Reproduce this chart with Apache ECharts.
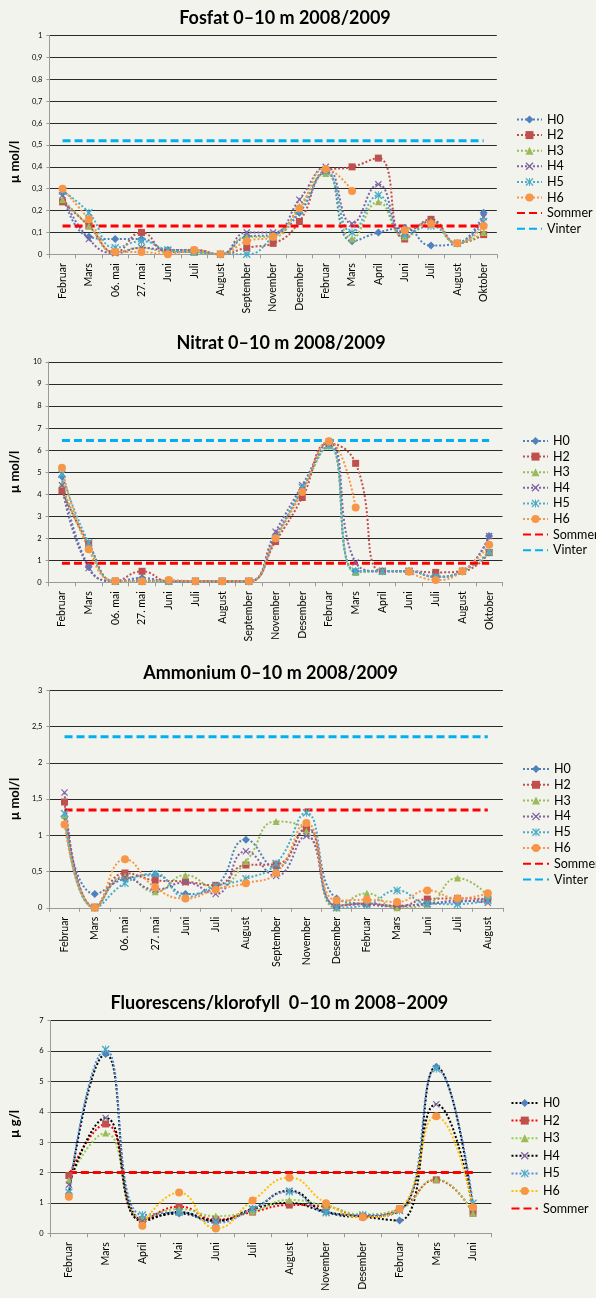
<!DOCTYPE html>
<html><head><meta charset="utf-8">
<script src="https://cdn.jsdelivr.net/npm/echarts@6/dist/echarts.min.js"></script>
<style>
html,body{margin:0;padding:0;background:#f3f3ee;}
.c{position:absolute;left:0;width:596px;}
</style>
</head><body>
<div id="c1" class="c" style="top:0;height:330px"></div>
<div id="c2" class="c" style="top:330px;height:320px"></div>
<div id="c3" class="c" style="top:650px;height:320px"></div>
<div id="c4" class="c" style="top:970px;height:328px"></div>
<script>
// ---------- DATA ----------
const seriesNames = ['H0','H2','H3','H4','H5','H6'];

const fosfatCats = ['Februar','Mars','06. mai','27. mai','Juni','Juli','August','September','November','Desember','Februar','Mars','April','Juni','Juli','August','Oktober'];
const fosfatH0 = [0.28,0.08,0.07,0.07,0.02,0.02,0.00,0.08,0.09,0.19,0.38,0.06,0.10,0.12,0.04,0.05,0.19];
const fosfatH2 = [0.24,0.13,0.01,0.10,0.01,0.01,0.00,0.03,0.05,0.15,0.38,0.40,0.44,0.07,0.16,0.05,0.09];
const fosfatH3 = [0.25,0.13,0.01,0.03,0.01,0.01,0.00,0.08,0.08,0.22,0.37,0.07,0.24,0.08,0.15,0.05,0.10];
const fosfatH4 = [0.27,0.07,0.005,0.03,0.02,0.02,0.00,0.10,0.10,0.25,0.40,0.14,0.32,0.10,0.15,0.05,0.17];
const fosfatH5 = [0.29,0.19,0.03,0.06,0.02,0.01,0.00,0.00,0.08,0.20,0.38,0.10,0.27,0.09,0.13,0.05,0.15];
const fosfatH6 = [0.30,0.16,0.01,0.01,0.00,0.02,0.00,0.06,0.08,0.21,0.39,0.29,null,0.11,0.14,0.05,0.13];
const fosfatSommer = [0.13,0.13,0.13,0.13,0.13,0.13,0.13,0.13,0.13,0.13,0.13,0.13,0.13,0.13,0.13,0.13,0.13];
const fosfatVinter = [0.52,0.52,0.52,0.52,0.52,0.52,0.52,0.52,0.52,0.52,0.52,0.52,0.52,0.52,0.52,0.52,0.52];
const fosfatTicks = {max:1, interval:0.1};

const nitratCats = ['Februar','Mars','06. mai','27. mai','Juni','Juli','August','September','November','Desember','Februar','Mars','April','Juni','Juli','August','Oktober'];
const nitratH0 = [4.8,0.7,0.05,0.2,0.05,0.05,0.05,0.05,2.1,4.2,6.4,0.5,0.5,0.5,0.25,0.5,2.1];
const nitratH2 = [4.15,1.75,0.05,0.5,0.05,0.05,0.05,0.05,1.85,3.85,6.3,5.4,0.5,0.5,0.45,0.5,1.35];
const nitratH3 = [4.45,1.6,0.05,0.05,0.05,0.05,0.05,0.05,2.0,4.2,6.2,0.45,0.5,0.5,0.25,0.5,1.4];
const nitratH4 = [4.4,0.65,0.05,0.1,0.05,0.05,0.05,0.05,2.3,4.4,6.4,0.9,0.5,0.5,0.25,0.5,2.1];
const nitratH5 = [4.9,1.8,0.05,0.05,0.05,0.05,0.05,0.05,2.0,4.3,6.2,0.5,0.5,0.5,0.25,0.5,1.35];
const nitratH6 = [5.2,1.5,0.06,0.05,0.1,0.05,0.05,0.05,2.0,4.1,6.4,3.4,null,0.48,0.1,0.5,1.7];
const nitratSommer = [0.86,0.86,0.86,0.86,0.86,0.86,0.86,0.86,0.86,0.86,0.86,0.86,0.86,0.86,0.86,0.86,0.86];
const nitratVinter = [6.44,6.44,6.44,6.44,6.44,6.44,6.44,6.44,6.44,6.44,6.44,6.44,6.44,6.44,6.44,6.44,6.44];
const nitratTicks = {max:10, interval:1};

const ammoniumCats = ['Februar','Mars','06. mai','27. mai','Juni','Juli','August','September','November','Desember','Februar','Mars','Juni','Juli','August'];
const ammoniumH0 = [1.26,0.19,0.40,0.45,0.19,0.30,0.94,0.55,1.10,0.13,0.05,0.02,0.06,0.08,0.12];
const ammoniumH2 = [1.46,0.01,0.48,0.38,0.36,0.31,0.59,0.60,1.09,0.03,0.06,0.02,0.12,0.13,0.12];
const ammoniumH3 = [1.28,0.00,0.44,0.22,0.45,0.27,0.64,1.19,1.06,0.00,0.20,0.00,0.05,0.41,0.17];
const ammoniumH4 = [1.59,0.00,0.42,0.25,0.35,0.19,0.78,0.44,0.99,0.03,0.05,0.03,0.05,0.10,0.07];
const ammoniumH5 = [1.30,0.00,0.34,0.47,0.15,0.30,0.40,0.61,1.31,0.00,0.04,0.24,0.06,0.05,0.10];
const ammoniumH6 = [1.15,0.00,0.67,0.28,0.13,0.25,0.34,0.48,1.17,0.10,0.11,0.08,0.24,0.13,0.20];
const ammoniumSommer = [1.35,1.35,1.35,1.35,1.35,1.35,1.35,1.35,1.35,1.35,1.35,1.35,1.35,1.35,1.35];
const ammoniumVinter = [2.36,2.36,2.36,2.36,2.36,2.36,2.36,2.36,2.36,2.36,2.36,2.36,2.36,2.36,2.36];
const ammoniumTicks = {max:3, interval:0.5};

const fluorCats = ['Februar','Mars','April','Mai','Juni','Juli','August','November','Desember','Februar','Mars','Juni'];
const fluorH0 = [1.3,5.9,0.45,0.65,0.4,0.8,1.0,0.7,0.55,0.42,5.48,0.8];
const fluorH2 = [1.9,3.6,0.45,0.88,0.45,0.7,0.93,0.88,0.55,0.8,1.76,0.66];
const fluorH3 = [1.75,3.3,0.5,0.8,0.57,0.73,1.1,0.9,0.63,0.8,1.78,0.66];
const fluorH4 = [1.6,3.8,0.4,0.7,0.42,0.8,1.4,0.7,0.55,0.75,4.25,0.8];
const fluorH5 = [1.35,6.05,0.6,0.69,0.35,0.8,1.37,0.68,0.6,0.75,5.42,0.99];
const fluorH6 = [1.2,null,0.25,1.34,0.16,1.08,1.83,0.99,0.53,0.8,3.85,0.86];
const fluorSommer = [2,2,2,2,2,2,2,2,2,2,2,2];
const fluorTicks = {max:7, interval:1};

// ---------- STYLE ----------
const FONT = 'Lato, "Open Sans", sans-serif';
const SYM_X = 'path://M0,1.2L1.2,0L5,3.8L8.8,0L10,1.2L6.2,5L10,8.8L8.8,10L5,6.2L1.2,10L0,8.8L3.8,5Z';
const SYM_STAR = 'path://M0,1.2L1.2,0L5,3.8L8.8,0L10,1.2L6.2,5L10,8.8L8.8,10L5,6.2L1.2,10L0,8.8L3.8,5Z M4.4,0L5.6,0L5.6,10L4.4,10Z';
const symbols = {H0:['diamond',8], H2:['rect',7], H3:['triangle',7], H4:[SYM_X,7], H5:[SYM_STAR,8], H6:['circle',8]};
const excelColors = {H0:'#4F81BD', H2:'#C0504D', H3:'#9BBB59', H4:'#8064A2', H5:'#4BACC6', H6:'#F79646'};
const fluorLine = {H0:'#000000', H2:'#FF0000', H3:'#92D050', H4:'#000000', H5:'#558ED5', H6:'#FFC000'};

function dataSeries(name, data, lineColor, markColor){
  return {
    name, type:'line', data, smooth:0.5, connectNulls:false,
    symbol:symbols[name][0], symbolSize:symbols[name][1], showAllSymbol:true,
    lineStyle:{color:lineColor, width:2, type:[2,2]},
    itemStyle:{color:markColor},
    emphasis:{disabled:true}, animation:false
  };
}
function refSeries(name, data, color){
  return {
    name, type:'line', data, symbol:'none', smooth:false,
    lineStyle:{color, width:3, type:[8,4]}, itemStyle:{color},
    emphasis:{disabled:true}, animation:false, z:3
  };
}

function build(id, cfg){
  const chart = echarts.init(document.getElementById(id), null, {renderer:'canvas'});
  const legendData = cfg.series.map(s => (s.name==='Sommer'||s.name==='Vinter')
      ? {name:s.name, itemStyle:{opacity:0}} : {name:s.name});
  chart.setOption({
    backgroundColor:'#f3f3ee',
    animation:false,
    graphic:[
      {type:'text', x:cfg.title[0], y:cfg.title[1], style:{text:cfg.titleText, fontFamily:FONT, fontWeight:'bold', fontSize:18, fill:'#000', align:'center', verticalAlign:'middle'}},
      {type:'text', x:cfg.yname[0], y:cfg.yname[1], rotation:Math.PI/2, style:{text:cfg.ynameText, fontFamily:FONT, fontWeight:'bold', fontSize:13, fill:'#000', align:'center', verticalAlign:'middle'}}
    ],
    grid:{left:cfg.grid[0], top:cfg.grid[1], width:cfg.grid[2], height:cfg.grid[3], containLabel:false},
    legend:{
      orient:'vertical', left:cfg.legend[0], top:cfg.legend[1], itemWidth:cfg.legend[3], itemHeight:10, itemGap:cfg.legend[2],
      data:legendData, textStyle:{fontFamily:FONT, fontSize:12.5, color:'#000'}, selectedMode:false
    },
    xAxis:{
      type:'category', data:cfg.cats, boundaryGap:true,
      axisLine:{lineStyle:{color:'#9a9a9a', width:1}},
      axisTick:{show:true, length:4, lineStyle:{color:'#9a9a9a'}},
      axisLabel:{rotate:90, interval:0, fontFamily:FONT, fontSize:10.5, color:'#000', margin:9}
    },
    yAxis:{
      type:'value', min:0, max:cfg.ticks.max, interval:cfg.ticks.interval,
      axisLine:{show:true, lineStyle:{color:'#9a9a9a', width:1}},
      axisTick:{show:true, length:3, lineStyle:{color:'#9a9a9a'}},
      splitLine:{lineStyle:{color:'#2a2a2a', width:1.2}},
      axisLabel:{fontFamily:FONT, fontSize:7.5, color:'#000', margin:7,
        formatter:v=>String(parseFloat(v.toFixed(2))).replace('.',',')}
    },
    series:cfg.series
  });
}

function stdSeries(arrs, sommer, vinter){
  const out = seriesNames.map((n,i)=>dataSeries(n, arrs[i], excelColors[n], excelColors[n]));
  out.push(refSeries('Sommer', sommer, '#FF0000'));
  if (vinter) out.push(refSeries('Vinter', vinter, '#00B0F0'));
  return out;
}

build('c1', {
  titleText:'Fosfat 0\u201310 m 2008/2009', title:[285,18.5], ynameText:'\u00b5 mol/l', yname:[15,162],
  grid:[49.4,35.7,447.4,218.6], legend:[511,108,2.6,25], cats:fosfatCats, ticks:fosfatTicks,
  series:stdSeries([fosfatH0,fosfatH2,fosfatH3,fosfatH4,fosfatH5,fosfatH6], fosfatSommer, fosfatVinter)
});
build('c2', {
  titleText:'Nitrat 0\u201310 m 2008/2009', title:[281,13.5], ynameText:'\u00b5 mol/l', yname:[15,142],
  grid:[48.6,32,453.9,220.3], legend:[517,99.5,2.6,25], cats:nitratCats, ticks:nitratTicks,
  series:stdSeries([nitratH0,nitratH2,nitratH3,nitratH4,nitratH5,nitratH6], nitratSommer, nitratVinter)
});
build('c3', {
  titleText:'Ammonium 0\u201310 m 2008/2009', title:[270.6,22.7], ynameText:'\u00b5 mol/l', yname:[15,149],
  grid:[49.4,40.3,453.5,220.7], legend:[517,107.5,2.8,26], cats:ammoniumCats, ticks:ammoniumTicks,
  series:stdSeries([ammoniumH0,ammoniumH2,ammoniumH3,ammoniumH4,ammoniumH5,ammoniumH6], ammoniumSommer, ammoniumVinter)
});
const fluorArrs = [fluorH0,fluorH2,fluorH3,fluorH4,fluorH5,fluorH6];
const fluorSeries = seriesNames.map((n,i)=>dataSeries(n, fluorArrs[i], fluorLine[n], excelColors[n]));
fluorSeries.push(refSeries('Sommer', fluorSommer, '#FF0000'));
build('c4', {
  titleText:'Fluorescens/klorofyll  0\u201310 m 2008\u20132009', title:[279.4,32.7], ynameText:'\u00b5 g/l', yname:[15,154],
  grid:[50.5,50.7,440.9,212.6], legend:[505.5,121.5,4.6,26.5], cats:fluorCats, ticks:fluorTicks,
  series:fluorSeries
});
</script>
</body></html>
